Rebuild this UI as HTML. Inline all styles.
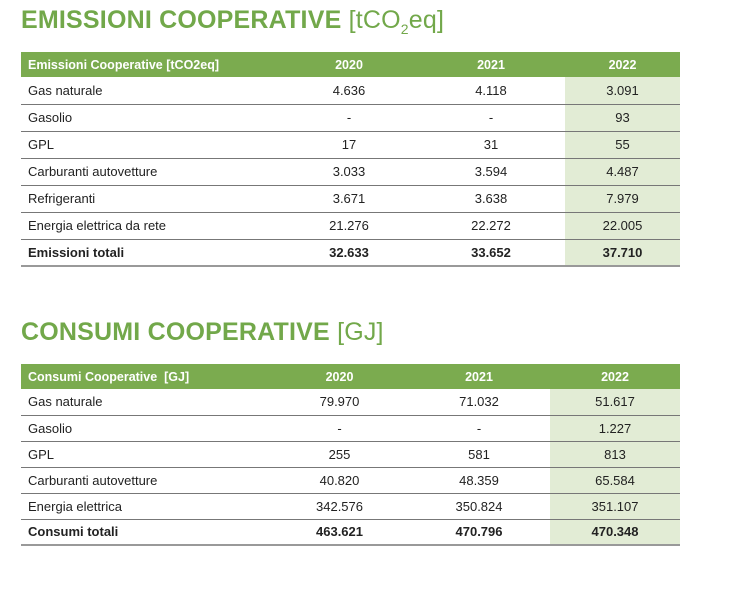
<!DOCTYPE html>
<html><head><meta charset="utf-8"><style>
body{margin:0;width:755px;height:602px;background:#fff;font-family:"Liberation Sans",sans-serif;position:relative;overflow:hidden}
h2{position:absolute;left:21px;margin:0;color:#72a84a;font-size:25px;font-weight:bold;letter-spacing:0.2px}
h2 span{font-weight:normal}
table{position:absolute;left:21px;width:659px;border-collapse:collapse;font-size:13px;color:#222}
th{background:#7bab4f;color:#fff;font-weight:bold;font-size:12.5px;padding:0;height:25px}
th:first-child{text-align:left;padding-left:7px}
td{padding:0;border-bottom:1px solid #777;text-align:center}
td:first-child{text-align:left;padding-left:7px}
td.h{background:#e2ecd5}
tr.tot td{font-weight:bold;border-bottom:2px solid #999}
</style></head><body>
<h2 style="top:6px">EMISSIONI COOPERATIVE <span>[tCO<sub style="font-size:14px">2</sub>eq]</span></h2>
<table style="top:52px">
<colgroup><col style="width:260px"><col style="width:136px"><col style="width:148px"><col style="width:115px"></colgroup>
<tr style="height:25px"><th>Emissioni Cooperative [tCO2eq]</th><th>2020</th><th>2021</th><th>2022</th></tr>
<tr style="height:27px"><td>Gas naturale</td><td>4.636</td><td>4.118</td><td class="h">3.091</td></tr>
<tr style="height:27px"><td>Gasolio</td><td>-</td><td>-</td><td class="h">93</td></tr>
<tr style="height:27px"><td>GPL</td><td>17</td><td>31</td><td class="h">55</td></tr>
<tr style="height:27px"><td>Carburanti autovetture</td><td>3.033</td><td>3.594</td><td class="h">4.487</td></tr>
<tr style="height:27px"><td>Refrigeranti</td><td>3.671</td><td>3.638</td><td class="h">7.979</td></tr>
<tr style="height:27px"><td>Energia elettrica da rete</td><td>21.276</td><td>22.272</td><td class="h">22.005</td></tr>
<tr class="tot" style="height:27px"><td>Emissioni totali</td><td>32.633</td><td>33.652</td><td class="h">37.710</td></tr>
</table>
<h2 style="top:318px">CONSUMI COOPERATIVE <span>[GJ]</span></h2>
<table style="top:364px">
<colgroup><col style="width:250px"><col style="width:137px"><col style="width:142px"><col style="width:130px"></colgroup>
<tr style="height:25px"><th>Consumi Cooperative &nbsp;[GJ]</th><th>2020</th><th>2021</th><th>2022</th></tr>
<tr style="height:26px"><td>Gas naturale</td><td>79.970</td><td>71.032</td><td class="h">51.617</td></tr>
<tr style="height:26px"><td>Gasolio</td><td>-</td><td>-</td><td class="h">1.227</td></tr>
<tr style="height:26px"><td>GPL</td><td>255</td><td>581</td><td class="h">813</td></tr>
<tr style="height:26px"><td>Carburanti autovetture</td><td>40.820</td><td>48.359</td><td class="h">65.584</td></tr>
<tr style="height:26px"><td>Energia elettrica</td><td>342.576</td><td>350.824</td><td class="h">351.107</td></tr>
<tr class="tot" style="height:26px"><td>Consumi totali</td><td>463.621</td><td>470.796</td><td class="h">470.348</td></tr>
</table>
</body></html>
